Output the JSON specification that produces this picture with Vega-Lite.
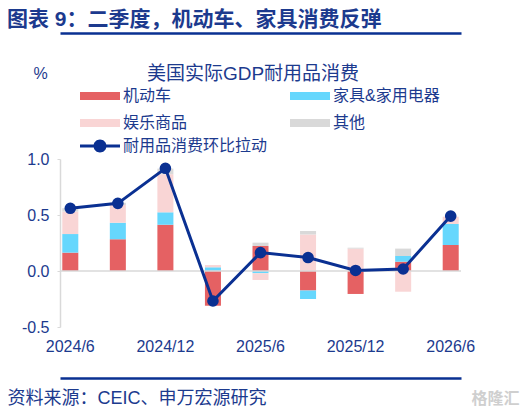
{
  "$schema": "https://vega.github.io/schema/vega-lite/v6.json",
  "width": 401,
  "height": 168,
  "autosize": "none",
  "padding": {"left": 60, "top": 159, "right": 66, "bottom": 86},
  "config": {
    "font": "Liberation Sans, Noto Sans CJK SC, sans-serif",
    "view": {"stroke": null}
  },
  "title": {
    "text": "图表 9：二季度，机动车、家具消费反弹",
    "anchor": "start",
    "frame": "group",
    "dx": -53,
    "fontSize": 21,
    "fontWeight": "bold",
    "color": "#1C3A8E",
    "offset": 3
  },
  "datasets": {
    "bars": [
      {"q": "2024/6", "cat": "机动车", "v": 0.164},
      {"q": "2024/6", "cat": "家具&家用电器", "v": 0.166},
      {"q": "2024/6", "cat": "娱乐商品", "v": 0.2},
      {"q": "2024/6", "cat": "其他", "v": 0.03},
      {"q": "2024/9", "cat": "机动车", "v": 0.283},
      {"q": "2024/9", "cat": "家具&家用电器", "v": 0.147},
      {"q": "2024/9", "cat": "娱乐商品", "v": 0.16},
      {"q": "2024/9", "cat": "其他", "v": 0.02},
      {"q": "2024/12", "cat": "机动车", "v": 0.413},
      {"q": "2024/12", "cat": "家具&家用电器", "v": 0.111},
      {"q": "2024/12", "cat": "娱乐商品", "v": 0.34},
      {"q": "2024/12", "cat": "其他", "v": 0.05},
      {"q": "2025/3", "cat": "机动车", "v": -0.31},
      {"q": "2025/3", "cat": "家具&家用电器", "v": 0.033},
      {"q": "2025/3", "cat": "娱乐商品", "v": 0.02},
      {"q": "2025/3", "cat": "其他", "v": 0.0},
      {"q": "2025/6", "cat": "机动车", "v": 0.223},
      {"q": "2025/6", "cat": "家具&家用电器", "v": -0.02},
      {"q": "2025/6", "cat": "娱乐商品", "v": -0.06},
      {"q": "2025/6", "cat": "其他", "v": 0.03},
      {"q": "2025/9", "cat": "机动车", "v": -0.175},
      {"q": "2025/9", "cat": "家具&家用电器", "v": -0.075},
      {"q": "2025/9", "cat": "娱乐商品", "v": 0.327},
      {"q": "2025/9", "cat": "其他", "v": 0.03},
      {"q": "2025/12", "cat": "机动车", "v": -0.205},
      {"q": "2025/12", "cat": "家具&家用电器", "v": 0.0},
      {"q": "2025/12", "cat": "娱乐商品", "v": 0.2},
      {"q": "2025/12", "cat": "其他", "v": 0.008},
      {"q": "2026/3", "cat": "机动车", "v": 0.083},
      {"q": "2026/3", "cat": "家具&家用电器", "v": 0.051},
      {"q": "2026/3", "cat": "娱乐商品", "v": -0.185},
      {"q": "2026/3", "cat": "其他", "v": 0.066},
      {"q": "2026/6", "cat": "机动车", "v": 0.232},
      {"q": "2026/6", "cat": "家具&家用电器", "v": 0.188},
      {"q": "2026/6", "cat": "娱乐商品", "v": 0.065},
      {"q": "2026/6", "cat": "其他", "v": 0.0}
    ],
    "total": [
      {"q": "2024/6", "v": 0.56, "s": "耐用品消费环比拉动"},
      {"q": "2024/9", "v": 0.604, "s": "耐用品消费环比拉动"},
      {"q": "2024/12", "v": 0.917, "s": "耐用品消费环比拉动"},
      {"q": "2025/3", "v": -0.268, "s": "耐用品消费环比拉动"},
      {"q": "2025/6", "v": 0.164, "s": "耐用品消费环比拉动"},
      {"q": "2025/9", "v": 0.12, "s": "耐用品消费环比拉动"},
      {"q": "2025/12", "v": 0.005, "s": "耐用品消费环比拉动"},
      {"q": "2026/3", "v": 0.018, "s": "耐用品消费环比拉动"},
      {"q": "2026/6", "v": 0.49, "s": "耐用品消费环比拉动"}
    ],
    "baseline": [{"base": 0}]
  },
  "layer": [
    {
      "data": {"name": "bars"},
      "mark": {"type": "bar"},
      "encoding": {
        "x": {
          "field": "q",
          "type": "ordinal",
          "sort": ["2024/6", "2024/9", "2024/12", "2025/3", "2025/6", "2025/9", "2025/12", "2026/3", "2026/6"],
          "scale": {"paddingInner": 0.663, "paddingOuter": 0.048},
          "axis": {
            "orient": "bottom",
            "offset": 51,
            "values": ["2024/6", "2024/12", "2025/6", "2025/12", "2026/6"],
            "domain": true,
            "domainColor": "#0A3092",
            "domainWidth": 2.5,
            "ticks": false,
            "tickSize": 0,
            "labelAngle": 0,
            "labelPadding": -40,
            "labelFontSize": 16,
            "labelColor": "#1C3A8E",
            "title": "资料来源：CEIC、申万宏源研究",
            "titleX": -53,
            "titleY": 20,
            "titleAlign": "left",
            "titleBaseline": "middle",
            "titleFontSize": 18,
            "titleFontWeight": "normal",
            "titleColor": "#1C3A8E"
          }
        },
        "y": {
          "field": "v",
          "type": "quantitative",
          "stack": "zero",
          "scale": {"domain": [-0.5, 1], "nice": false},
          "axis": {
            "orient": "left",
            "values": [-0.5, 0, 0.5, 1],
            "grid": false,
            "domainColor": "#D9D9D9",
            "domainWidth": 1.5,
            "tickColor": "#D9D9D9",
            "tickSize": 3,
            "labelPadding": 8,
            "labelFontSize": 16,
            "labelColor": "#1C3A8E",
            "labelExpr": "datum.value < 0 ? '-' + format(-datum.value, '.1f') : format(datum.value, '.1f')",
            "title": "%",
            "titleAngle": 0,
            "titleX": -20,
            "titleY": -86,
            "titleAlign": "center",
            "titleBaseline": "middle",
            "titleFontSize": 16,
            "titleFontWeight": "normal",
            "titleColor": "#1C3A8E"
          }
        },
        "color": {
          "field": "cat",
          "type": "nominal",
          "scale": {
            "domain": ["机动车", "娱乐商品", "家具&家用电器", "其他"],
            "range": ["#E56163", "#F9D5D5", "#66D7FD", "#D9D9D9"]
          },
          "legend": {
            "orient": "none",
            "legendX": 16,
            "legendY": -71,
            "columns": 2,
            "columnPadding": 98,
            "rowPadding": 11,
            "padding": 0,
            "symbolType": "M-1,-1H9V1H-1Z",
            "symbolSize": 64,
            "symbolStrokeWidth": 0,
            "labelOffset": 31,
            "labelFontSize": 16,
            "labelColor": "#1C3A8E",
            "labelLimit": 300,
            "title": null
          }
        },
        "order": {"field": "cat", "sort": "descending"}
      }
    },
    {
      "data": {"name": "baseline"},
      "mark": {"type": "rule", "color": "#D9D9D9", "strokeWidth": 1.5},
      "encoding": {
        "y": {"field": "base", "type": "quantitative", "axis": null}
      }
    },
    {
      "data": {"name": "total"},
      "mark": {"type": "line", "color": "#0A3092", "strokeWidth": 3},
      "encoding": {
        "x": {
          "field": "q",
          "type": "ordinal",
          "sort": ["2024/6", "2024/9", "2024/12", "2025/3", "2025/6", "2025/9", "2025/12", "2026/3", "2026/6"],
          "axis": {
            "orient": "top",
            "offset": 126,
            "domain": true,
            "domainColor": "#0A3092",
            "domainWidth": 2.5,
            "ticks": false,
            "labels": false,
            "grid": false,
            "title": "美国实际GDP耐用品消费",
            "titleX": 192.5,
            "titleY": 40,
            "titleAlign": "center",
            "titleBaseline": "middle",
            "titleFontSize": 19,
            "titleFontWeight": "normal",
            "titleColor": "#1C3A8E"
          }
        },
        "y": {"field": "v", "type": "quantitative", "axis": null}
      }
    },
    {
      "data": {"name": "total"},
      "mark": {"type": "point", "filled": true, "shape": "circle", "size": 135, "opacity": 1},
      "encoding": {
        "x": {
          "field": "q",
          "type": "ordinal",
          "sort": ["2024/6", "2024/9", "2024/12", "2025/3", "2025/6", "2025/9", "2025/12", "2026/3", "2026/6"],
          "axis": null
        },
        "y": {
          "field": "v",
          "type": "quantitative",
          "axis": {
            "orient": "right",
            "domain": false,
            "ticks": false,
            "labels": false,
            "grid": false,
            "title": "格隆汇",
            "titleAngle": 0,
            "titleX": 34,
            "titleY": 239,
            "titleAlign": "center",
            "titleBaseline": "middle",
            "titleFontSize": 16,
            "titleFontWeight": "bold",
            "titleColor": "#CFCFCF"
          }
        },
        "fill": {
          "field": "s",
          "type": "nominal",
          "scale": {"range": ["#0A3092"]},
          "legend": {
            "orient": "none",
            "legendX": 16,
            "legendY": -21,
            "padding": 0,
            "title": null,
            "symbolType": "M-1,-0.375H9V0.375H-1Z M5.625,0A1.625,1.625,0,1,1,2.375,0A1.625,1.625,0,1,1,5.625,0Z",
            "symbolSize": 64,
            "symbolStrokeWidth": 0,
            "labelOffset": 31,
            "labelFontSize": 16,
            "labelColor": "#1C3A8E",
            "labelLimit": 300
          }
        }
      }
    }
  ]
}
